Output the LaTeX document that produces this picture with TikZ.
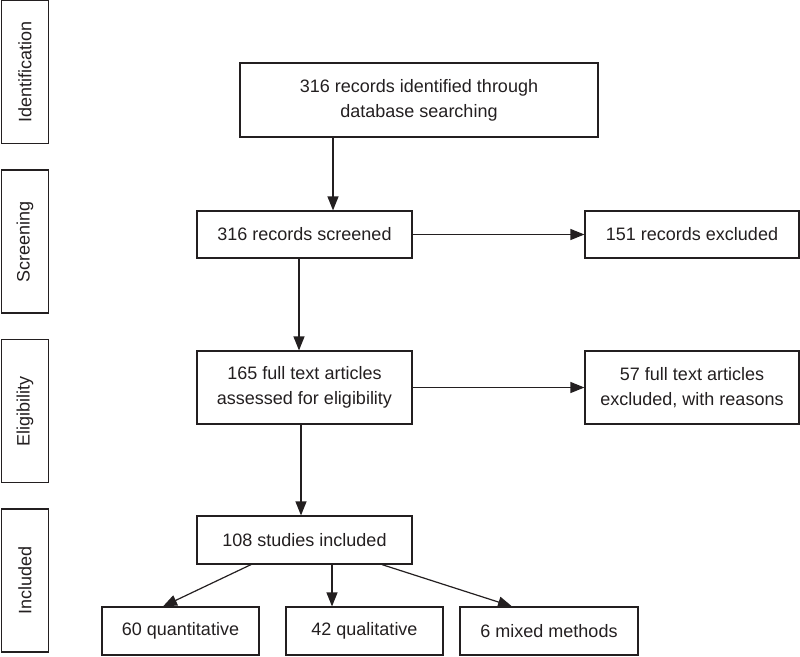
\documentclass[tikz,border=0pt]{standalone}
\usepackage{fontspec}
\setmainfont{Liberation Sans}
\usetikzlibrary{arrows.meta}
\definecolor{ink}{HTML}{231F20}
\begin{document}
\begin{tikzpicture}[x=1pt,y=-1pt,
  box/.style={draw=ink,line width=1.2pt,rectangle,inner sep=0pt,align=center,
    text=ink,font=\fontsize{18}{25}\selectfont},
  side/.style={box,minimum width=47pt,minimum height=143pt},
  sidetext/.style={rotate=90,text=ink,font=\fontsize{18}{25}\selectfont},
  arr/.style={draw=ink,line width=1.2pt,-{Triangle[length=14pt,width=11pt]}}]
\useasboundingbox (0,0) rectangle (800,656);
% side boxes
\node[side] (sid) at (25,72) {};
\node[sidetext] (tid) at (sid.center) {Identification};
\node[side] (ssc) at (25,241.5) {};
\node[sidetext] (tsc) at (ssc.center) {Screening};
\node[side] (sel) at (25,411) {};
\node[sidetext] (tel) at (sel.center) {Eligibility};
\node[side] (sin) at (25,580.5) {};
\node[sidetext] (tin) at (sin.center) {Included};
% main boxes
\node[box,minimum width=358pt,minimum height=74pt] (rec) at (419,100) {316 records identified through\\database searching};
\node[box,minimum width=215pt,minimum height=47pt] (scr) at (304.5,234.5) {316 records screened};
\node[box,minimum width=214pt,minimum height=47pt] (exc) at (692,234.5) {151 records excluded};
\node[box,minimum width=215pt,minimum height=73pt] (full) at (304.5,387.5) {165 full text articles\\assessed for eligibility};
\node[box,minimum width=214pt,minimum height=73pt] (fexc) at (692,387.5) {57 full text articles\\excluded, with reasons};
\node[box,minimum width=215pt,minimum height=48pt] (inc) at (304.5,540) {108 studies included};
\node[box,minimum width=157pt,minimum height=48pt] (q1) at (180.5,631) {60 quantitative};
\node[box,minimum width=157pt,minimum height=48pt] (q2) at (364.5,631) {42 qualitative};
\node[box,minimum width=178pt,minimum height=48pt] (q3) at (549,631) {6 mixed methods};
% connector anchors
\coordinate (c1) at (333,0);
\coordinate (c2) at (299,0);
\coordinate (c3) at (301,0);
\coordinate (c4) at (332,0);
\coordinate (s1) at (251,0);
\coordinate (e1) at (163,0);
\coordinate (s3) at (382,0);
\coordinate (e3) at (512,0);
% connectors
\draw[arr] (rec.south -| c1) -- (scr.north -| c1);
\draw[arr] (scr.east) -- (exc.west);
\draw[arr] (scr.south -| c2) -- (full.north -| c2);
\draw[arr] (full.east) -- (fexc.west);
\draw[arr] (full.south -| c3) -- (inc.north -| c3);
\draw[arr] (inc.south -| s1) -- (q1.north -| e1);
\draw[arr] (inc.south -| c4) -- (q2.north -| c4);
\draw[arr] (inc.south -| s3) -- (q3.north -| e3);
\end{tikzpicture}
\end{document}
